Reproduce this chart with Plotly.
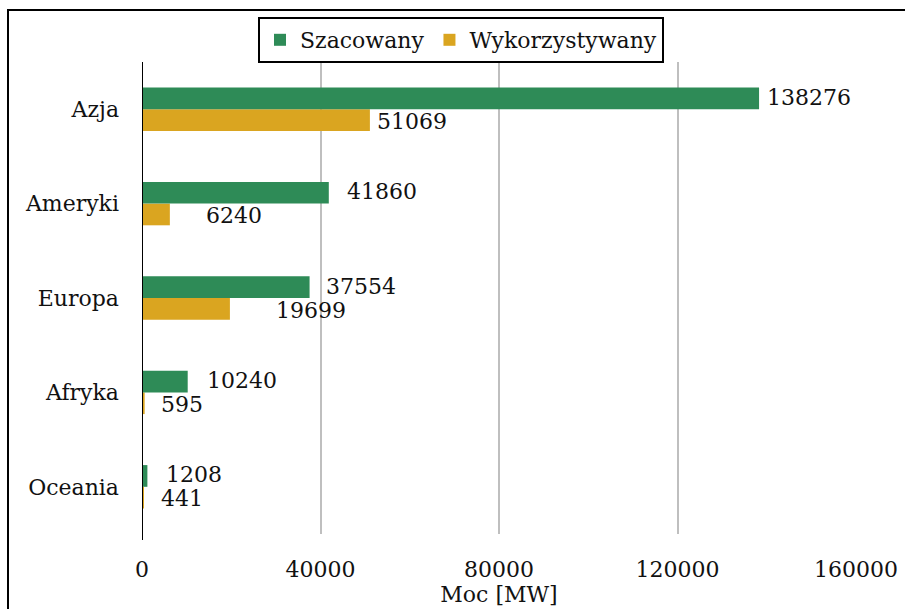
import plotly.graph_objects as go

categories = ["Azja", "Ameryki", "Europa", "Afryka", "Oceania"]
szacowany = [138276, 41860, 37554, 10240, 1208]
wykorzystywany = [51069, 6240, 19699, 595, 441]
tick_vals = [0, 40000, 80000, 120000, 160000]
tick_text = ["0", "40000", "80000", "120000", "160000"]

# pixel gaps between bar end and label (style, as in the reference)
gap_szac = [7, 17, 15, 18, 18]
gap_wyk = [6, 35, 45, 15, 16]

FONT = "DejaVu Serif"
GREEN = "#2E8B57"
GOLD = "#DAA520"
TXT = "#111111"

cats_rev = categories[::-1]
fig = go.Figure()
fig.add_trace(go.Bar(
    y=cats_rev, x=wykorzystywany[::-1], orientation="h", name="Wykorzystywany",
    marker=dict(color=GOLD, line=dict(width=0)),
))
fig.add_trace(go.Bar(
    y=cats_rev, x=szacowany[::-1], orientation="h", name="Szacowany",
    marker=dict(color=GREEN, line=dict(width=0)),
))

W, H = 905, 609
L, R, T, B = 142, 49, 62, 75
pw, ph = W - L - R, H - T - B
BGAP = 0.54
LBL_SHIFT = 12

for cat, v, g in zip(categories, szacowany, gap_szac):
    fig.add_annotation(x=v, y=cat, xref="x", yref="y", text=str(v), showarrow=False,
                       xanchor="left", yanchor="middle", xshift=g, yshift=LBL_SHIFT,
                       borderpad=0, font=dict(family=FONT, size=22, color=TXT))
for cat, v, g in zip(categories, wykorzystywany, gap_wyk):
    fig.add_annotation(x=v, y=cat, xref="x", yref="y", text=str(v), showarrow=False,
                       xanchor="left", yanchor="middle", xshift=g, yshift=-LBL_SHIFT,
                       borderpad=0, font=dict(family=FONT, size=22, color=TXT))

fig.update_layout(
    width=W, height=H,
    margin=dict(l=L, r=R, t=T, b=B, autoexpand=False),
    barmode="group", bargap=BGAP, bargroupgap=0,
    plot_bgcolor="white", paper_bgcolor="white",
    font=dict(family=FONT, size=22, color=TXT),
    legend=dict(
        orientation="h", x=(461 - L) / pw, xanchor="center", y=1 + (T - 17) / ph, yanchor="top",
        traceorder="reversed", bordercolor="black", borderwidth=2,
        font=dict(family=FONT, size=22, color=TXT),
    ),
    xaxis=dict(
        range=[0, 160000], tickvals=tick_vals, ticktext=tick_text,
        showgrid=True, gridcolor="#BFBFBF", gridwidth=2, zeroline=False,
        showline=False, ticks="", automargin=False, ticklabelstandoff=20,
        tickfont=dict(family=FONT, size=22, color=TXT),
        title=dict(text="Moc [MW]", font=dict(family=FONT, size=22, color=TXT), standoff=0),
    ),
    yaxis=dict(
        showline=False, ticks="", showgrid=False, ticklabelstandoff=22, automargin=False,
        tickfont=dict(family=FONT, size=22, color=TXT),
    ),
    showlegend=True,
)

# vertical black axis line at x=0
fig.add_shape(type="line", xref="x", yref="paper", x0=0, x1=0, y0=-6 / ph, y1=1,
              line=dict(color="black", width=2))
# outer chart border
fig.add_shape(type="rect", xref="paper", yref="paper",
              x0=(8 - L) / pw, x1=(W + 5 - L) / pw,
              y0=-(B + 10) / ph, y1=1 + (T - 10) / ph,
              line=dict(color="black", width=2), fillcolor="rgba(0,0,0,0)", layer="below")

fig.write_html("out.html", config={"displayModeBar": False},
               post_script="document.body.style.margin='0';document.body.style.overflow='hidden';")
